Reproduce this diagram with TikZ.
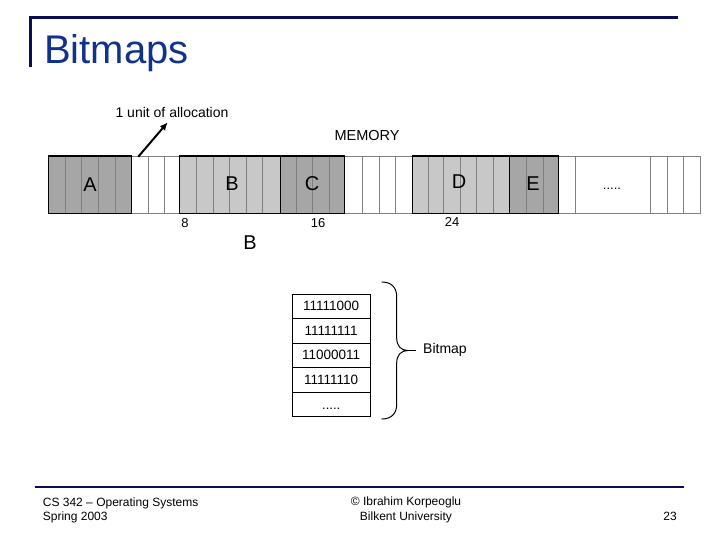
\documentclass[tikz,border=0pt]{standalone}
\usepackage{fontspec}
\setmainfont{Liberation Sans}
\usetikzlibrary{arrows.meta}
\definecolor{navy}{RGB}{12,12,80}
\definecolor{titleblue}{RGB}{16,50,140}
\definecolor{dgray}{RGB}{166,166,166}
\definecolor{lgray}{RGB}{200,200,200}
\definecolor{cellline}{RGB}{128,128,128}
\newcommand{\fs}[1]{\fontsize{#1}{#1}\selectfont}
\begin{document}
\begin{tikzpicture}[x=1pt,y=-1pt,
  frameline/.style={navy, line width=2.5pt},
  gridline/.style={cellline, line width=0.9pt},
  blockfill/.style={inner sep=0pt, outer sep=0pt, minimum height=57.3pt, draw=none},
  blockedge/.style={black, line width=1.2pt},
  blocklabel/.style={font=\fs{20}, inner sep=0pt},
  small/.style={font=\fs{13}, inner sep=1pt},
  rowbox/.style={draw=black, line width=0.9pt, minimum width=77.7pt, minimum height=24.5pt, inner sep=0pt, font=\fs{13.5}},
  foot/.style={font=\fs{12}, inner sep=0pt}
]
\useasboundingbox (0,0) rectangle (720,540);

% title frame
\draw[frameline] (30.5,66.7) -- (30.5,17.7) -- (678,17.7);
\node[anchor=base west, inner sep=0pt, text=titleblue, font=\fs{40}] (title) at (44,64) {Bitmaps};

% memory strip grid
\draw[gridline] (48.3,156) -- (700.7,156);
\draw[gridline] (48.3,213.3) -- (700.7,213.3);
\foreach \x in {131.7,148.3,164,179.3,344.3,362.7,379.3,395.7,412.3,558.7,575.3,650.7,667.3,683.3,700.7}
  \draw[gridline] (\x,156) -- (\x,213.3);

% blocks
\node[blockfill, fill=dgray, minimum width=83.4pt] (A) at (90,184.65) {};
\node[blockfill, fill=lgray, minimum width=101.4pt] (B) at (230,184.65) {};
\node[blockfill, fill=dgray, minimum width=63.6pt] (C) at (312.5,184.65) {};
\node[blockfill, fill=lgray, minimum width=97.4pt] (D) at (461,184.65) {};
\node[blockfill, fill=dgray, minimum width=49pt] (E) at (534.2,184.65) {};

\foreach \x in {65.7,81.7,98.3,115.7,196.7,213.3,229.7,246.7,262.7,296,312.7,329.3,428.3,443.3,460.7,476.7,493.3,526.7,543.3}
  \draw[gridline] (\x,156) -- (\x,213.3);

\foreach \b in {A,B,C,D,E}
  \draw[blockedge] (\b.north west) rectangle (\b.south east);

\node[blocklabel] (Al) at (90,185) {A};
\node[blocklabel] (Bl) at (232,184) {B};
\node[blocklabel] (Cl) at (312,184) {C};
\node[blocklabel] (Dl) at (459,182) {D};
\node[blocklabel] (El) at (533,184) {E};
\node[small, anchor=base] (dots) at (612,190) {.....};

% labels around strip
\node[font=\fs{14}, inner sep=0pt] (alloc) at (172,112) {1 unit of allocation};
\node[font=\fs{14.5}, inner sep=0pt] (mem) at (367,136) {MEMORY};
\coordinate (cellTop) at (138.3,156.7);
\coordinate (allocTip) at (167.7,122.3);
\draw[line width=2pt, -{Latex[length=8pt,width=7pt]}] (cellTop) -- (allocTip);

\node[small] (n8) at (185,223) {8};
\node[small] (n16) at (318,223) {16};
\node[small] (n24) at (452,222) {24};
\node[blocklabel] (Bbig) at (250,243) {B};

% bitmap table
\node[rowbox] (r1) at (331.2,306.25) {11111000};
\node[rowbox] (r2) at (331.2,330.75) {11111111};
\node[rowbox] (r3) at (331.2,355.25) {11000011};
\node[rowbox] (r4) at (331.2,379.75) {11111110};
\node[rowbox] (r5) at (331.2,404.25) {};
\node[small, anchor=base] (r5t) at (331.2,409) {.....};

% brace
\node[font=\fs{14}, inner sep=0pt, anchor=west] (bm) at (423,349.5) {Bitmap};
\coordinate (btop) at (381.7,282);
\coordinate (bbot) at (381.7,419);
\coordinate (btip) at (408,350.5);
\coordinate (btick) at (416,350.5);
\draw[black, line width=1pt] (btop) .. controls (392,282) and (396.7,288) .. (396.7,297)
  -- (396.7,338) .. controls (396.7,346) and (401,350.5) .. (btip)
  .. controls (401,350.5) and (396.7,355) .. (396.7,363)
  -- (396.7,404) .. controls (396.7,413) and (392,419) .. (bbot);
\draw[black, line width=1pt] (btip) -- (btick);

% footer
\draw[frameline] (35,487) -- (684,487);
\node[foot, anchor=base west] (f1) at (42.7,506.5) {CS 342 – Operating Systems};
\node[foot, anchor=base west] (f2) at (42.7,520.5) {Spring 2003};
\node[foot, anchor=base] (f3) at (406,505.5) {© Ibrahim Korpeoglu};
\node[foot, anchor=base] (f4) at (406,520) {Bilkent University};
\node[foot, anchor=base east] (f5) at (677,520.7) {23};
\end{tikzpicture}
\end{document}
